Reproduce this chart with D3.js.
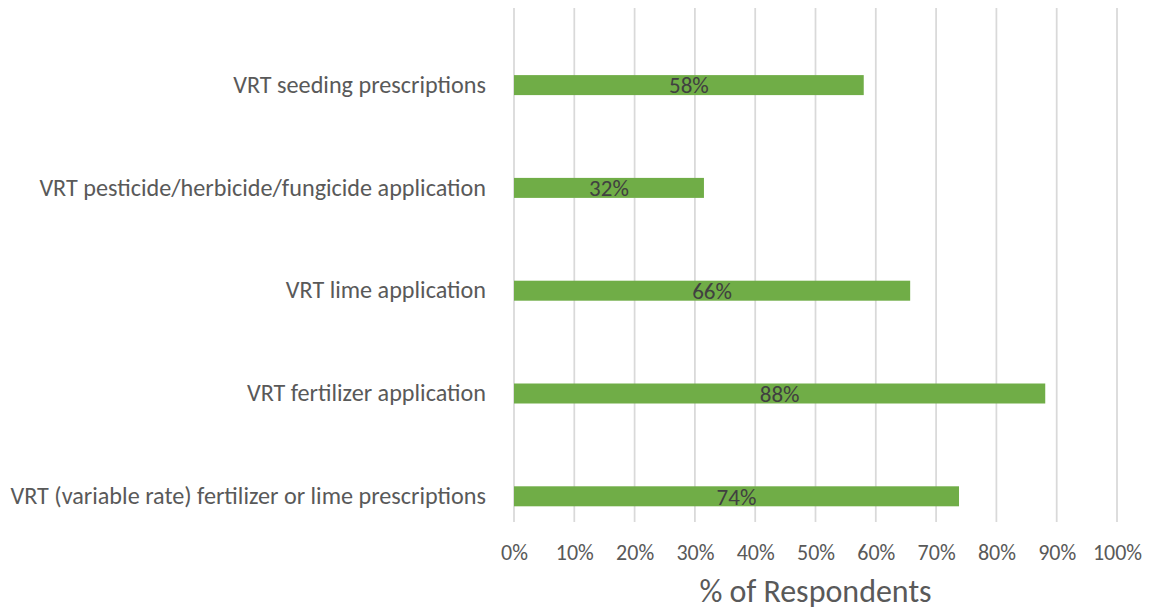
<!DOCTYPE html>
<html>
<head>
<meta charset="utf-8">
<script src="https://cdn.jsdelivr.net/npm/d3@7"></script>
<style>
  body { margin: 0; background: #fff; }
  text { font-family: Carlito, Lato, "Open Sans", sans-serif; }
</style>
</head>
<body>
<div id="chart"></div>
<script>
// data
const categories = [
  "VRT seeding prescriptions",
  "VRT pesticide/herbicide/fungicide application",
  "VRT lime application",
  "VRT fertilizer application",
  "VRT (variable rate) fertilizer or lime prescriptions"
];
const values = [0.58, 0.315, 0.657, 0.881, 0.738];
const valueLabels = ["58%", "32%", "66%", "88%", "74%"];
const tickValues = [0, 0.1, 0.2, 0.3, 0.4, 0.5, 0.6, 0.7, 0.8, 0.9, 1.0];
const axisTitle = "% of Respondents";

const margin = {top: 8, right: 32, bottom: 88, left: 514};
const width = 1149 - margin.left - margin.right;
const height = 610 - margin.top - margin.bottom;

const svg = d3.select("#chart").append("svg")
    .attr("width", 1149)
    .attr("height", 610)
    .append("g")
    .attr("transform", "translate(" + margin.left + "," + margin.top + ")");

const x = d3.scaleLinear().domain([0, 1]).range([0, width]);
const y = d3.scaleBand().domain(categories).range([0, height]);
const barH = 20;
const barY = d => y(d) + y.bandwidth() * 0.75 - barH / 2;

// gridlines
svg.append("g").selectAll("line")
    .data(tickValues)
    .join("line")
    .attr("x1", d => x(d)).attr("x2", d => x(d))
    .attr("y1", 0).attr("y2", height)
    .attr("stroke", "#d9d9d9")
    .attr("stroke-width", 1.75);

// x axis labels
const xAxis = d3.axisBottom(x).tickValues(tickValues)
    .tickFormat(d3.format(".0%")).tickSize(0).tickPadding(22);
const xg = svg.append("g").attr("transform", "translate(0," + height + ")").call(xAxis);
xg.select(".domain").remove();
xg.selectAll("text").attr("fill", "#595959").style("font-size", "22px")
    .style("font-family", "Carlito, Lato, 'Open Sans', sans-serif");

// category labels
const yAxis = d3.axisLeft(y).tickSize(0).tickPadding(28);
const yg = svg.append("g").call(yAxis);
yg.select(".domain").remove();
yg.selectAll(".tick").attr("transform", d => "translate(0," + (y(d) + y.bandwidth() * 0.75) + ")");
yg.selectAll("text").attr("fill", "#595959").style("font-size", "24.2px")
    .style("font-family", "Carlito, Lato, 'Open Sans', sans-serif");

// bars
svg.append("g").selectAll("rect")
    .data(categories)
    .join("rect")
    .attr("x", x(0))
    .attr("y", d => barY(d))
    .attr("width", (d, i) => x(values[i]) - x(0))
    .attr("height", barH)
    .attr("fill", "#70ad47");

// value labels
svg.append("g").selectAll("text")
    .data(categories)
    .join("text")
    .attr("x", (d, i) => x(values[i]) / 2)
    .attr("y", d => y(d) + y.bandwidth() * 0.75)
    .attr("dy", "0.36em")
    .attr("text-anchor", "middle")
    .attr("fill", "#404040")
    .style("font-size", "23px")
    .text((d, i) => valueLabels[i]);

// axis title
svg.append("text")
    .attr("x", width / 2)
    .attr("y", height + 80)
    .attr("text-anchor", "middle")
    .attr("fill", "#595959")
    .style("font-size", "32px")
    .text(axisTitle);
</script>
</body>
</html>
